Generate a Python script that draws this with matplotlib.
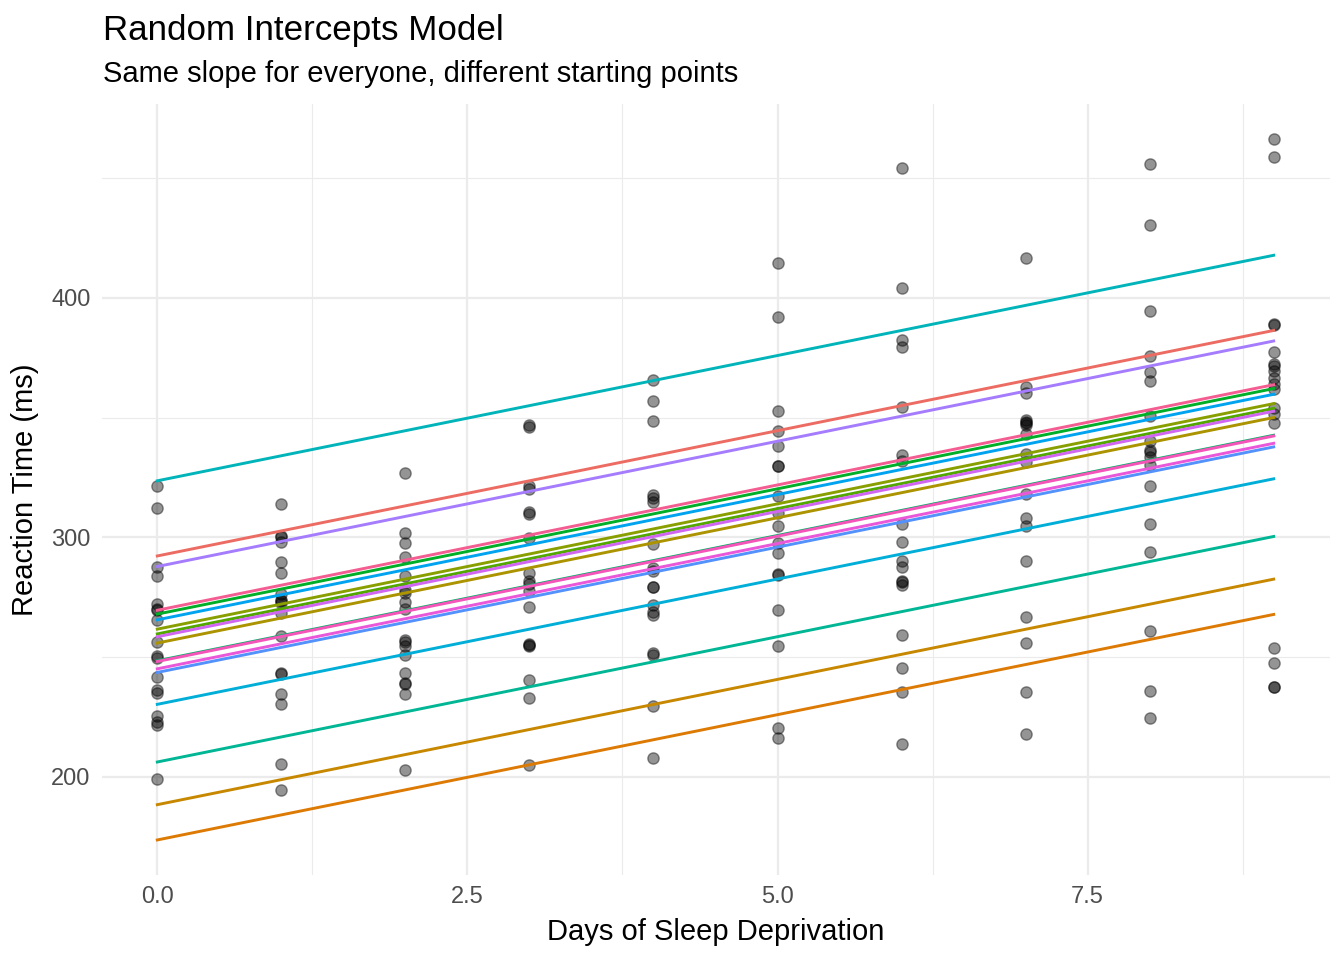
import numpy as np
import matplotlib.pyplot as plt

# sleepstudy data (lme4)
subjects = ['308', '309', '310', '330', '331', '332', '333', '334', '335',
            '337', '349', '350', '351', '352', '369', '370', '371', '372']
days = np.arange(10)
reaction = [
    [249.5600, 258.7047, 250.8006, 321.4398, 356.8519, 414.6901, 382.2038, 290.1486, 430.5853, 466.3535],
    [222.7339, 205.2658, 202.9778, 204.7070, 207.7161, 215.9618, 213.6303, 217.7272, 224.2957, 237.3142],
    [199.0539, 194.3322, 234.3200, 232.8416, 229.3074, 220.4579, 235.4208, 255.7511, 261.0125, 247.5153],
    [321.5426, 300.4002, 283.8565, 285.1330, 285.7973, 297.5855, 280.2396, 318.2613, 305.3495, 354.0487],
    [287.6079, 285.0000, 301.8206, 320.1153, 316.2773, 293.3187, 290.0750, 334.8177, 293.7469, 371.5811],
    [234.8606, 242.8118, 272.9613, 309.7688, 317.4629, 309.9976, 454.1619, 346.8311, 330.3003, 253.8644],
    [283.8424, 289.5550, 276.7693, 299.8097, 297.1710, 338.1665, 332.0265, 348.8399, 333.3600, 362.0428],
    [265.4731, 276.2012, 243.3647, 254.6723, 279.0244, 284.1912, 305.5248, 331.5229, 335.7469, 377.2990],
    [241.6083, 273.9472, 254.4907, 270.8021, 251.4519, 254.6362, 245.4523, 235.3110, 235.7541, 237.2466],
    [312.3666, 313.8058, 291.6112, 346.1222, 365.7324, 391.8385, 404.2601, 416.6923, 455.8643, 458.9167],
    [236.1032, 230.3167, 238.9256, 254.9220, 250.7103, 269.7744, 281.5648, 308.1020, 336.2806, 351.6451],
    [256.2968, 243.4543, 256.2046, 255.5271, 268.9165, 329.7247, 379.4445, 362.9184, 394.4872, 389.0527],
    [250.5265, 300.0576, 269.8939, 280.5891, 271.8274, 304.6336, 287.7466, 266.5955, 321.5418, 347.5655],
    [221.6771, 298.1939, 326.8785, 346.8555, 348.7402, 352.8287, 354.4266, 360.4326, 375.6406, 388.5417],
    [271.9235, 268.4369, 257.2424, 277.6566, 314.8222, 317.2135, 298.1353, 348.1229, 340.2800, 366.5131],
    [225.2640, 234.5235, 238.9008, 240.4730, 267.5373, 344.1937, 281.1481, 347.5855, 365.1630, 372.2288],
    [269.8804, 272.4428, 277.8989, 281.7895, 279.1705, 284.5120, 259.2658, 304.6306, 350.7807, 369.4692],
    [269.4117, 273.4740, 297.5968, 310.6316, 287.1726, 329.6076, 334.4818, 343.2199, 369.1417, 364.1236],
]

# lmer(Reaction ~ Days + (1 | Subject))
fixed_intercept = 251.4051
fixed_slope = 10.4673
random_intercepts = [40.7837, -77.8496, -63.1086, 4.4064, 10.2162, 8.2212, 16.5005, -2.9970, -45.2821,
                     72.1827, -21.1962, 14.1114, -7.8622, 36.3784, 7.0364, -6.3627, -3.2943, 18.1157]


def hcl_to_hex(h, c=100, l=65):
    # polar Luv -> sRGB, like grDevices::hcl
    xn, yn, zn = 95.047, 100.0, 108.883
    un = 4 * xn / (xn + 15 * yn + 3 * zn)
    vn = 9 * yn / (xn + 15 * yn + 3 * zn)
    u = c * np.cos(np.radians(h))
    v = c * np.sin(np.radians(h))
    y = yn * ((l + 16) / 116) ** 3 if l > 8 else yn * l / 903.3
    up = u / (13 * l) + un
    vp = v / (13 * l) + vn
    x = 9.0 * y * up / (4 * vp)
    z = -x / 3 - 5 * y + 3 * y / vp
    xyz = np.array([x, y, z]) / 100
    m = np.array([[3.240479, -1.537150, -0.498535],
                  [-0.969256, 1.875992, 0.041556],
                  [0.055648, -0.204043, 1.057311]])
    rgb = m @ xyz
    rgb = np.where(rgb > 0.00304, 1.055 * np.abs(rgb) ** (1 / 2.4) - 0.055, 12.92 * rgb)
    rgb = np.clip(rgb, 0, 1)
    return '#%02x%02x%02x' % tuple(int(round(k * 255)) for k in rgb)


n = len(subjects)
colors = [hcl_to_hex(15 + 360 / n * i, c=100, l=61) for i in range(n)]

plt.rcParams['font.family'] = ['Liberation Sans', 'DejaVu Sans']

fig = plt.figure(figsize=(13.44, 9.6), dpi=100)
ax = fig.add_axes([101.5 / 1344, 1 - 875 / 960, (1329.5 - 101.5) / 1344, (875 - 104) / 960])

all_y = []
for i, s in enumerate(subjects):
    ax.scatter(days, reaction[i], s=66, color='black', alpha=0.42, linewidths=1.0, zorder=2)
    all_y += reaction[i]

for i, s in enumerate(subjects):
    fitted = fixed_intercept + random_intercepts[i] + fixed_slope * days
    ax.plot(days, fitted, color=colors[i], linewidth=2.1, zorder=3)
    all_y += list(fitted)

ymin, ymax = min(all_y), max(all_y)
pad = (ymax - ymin) * 0.05
ax.set_ylim(ymin - pad, ymax + pad)
ax.set_xlim(-0.45, 9.45)

ax.set_xticks([0, 2.5, 5, 7.5])
ax.set_xticklabels(['0.0', '2.5', '5.0', '7.5'])
ax.set_xticks([1.25, 3.75, 6.25, 8.75], minor=True)
ax.set_yticks([200, 300, 400])
ax.set_yticks([250, 350, 450], minor=True)

ax.grid(True, which='major', color='#ebebeb', linewidth=1.6, zorder=0)
ax.grid(True, which='minor', color='#ebebeb', linewidth=0.8, zorder=0)
ax.set_axisbelow(True)
for sp in ax.spines.values():
    sp.set_visible(False)
ax.tick_params(which='both', length=0, labelsize=17, labelcolor='#4d4d4d', pad=8)

ax.set_xlabel('Days of Sleep Deprivation', fontsize=21, labelpad=7)
ax.set_ylabel('Reaction Time (ms)', fontsize=21, labelpad=9)

fig.text(102.5 / 1344, 1 - 40 / 960, 'Random Intercepts Model', fontsize=25.2, va='baseline', ha='left')
fig.text(102.5 / 1344, 1 - 82 / 960, 'Same slope for everyone, different starting points', fontsize=21,
         va='baseline', ha='left')

fig.savefig('out.png', dpi=100, facecolor='white')
